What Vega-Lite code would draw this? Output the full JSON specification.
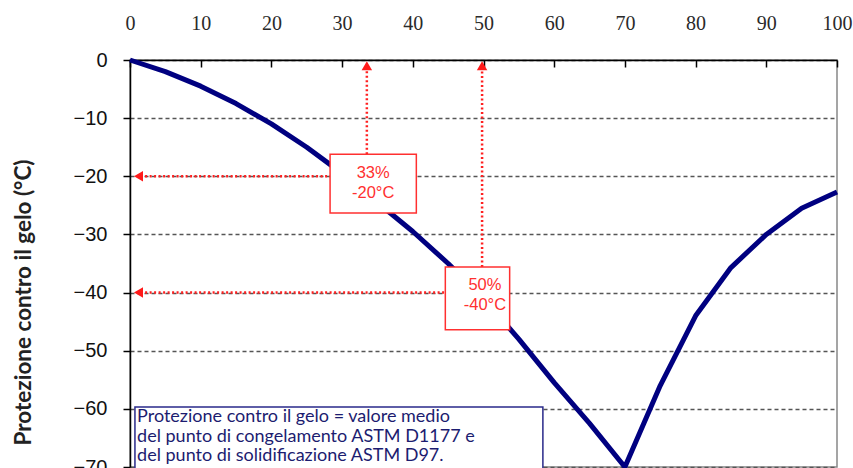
{
  "$schema": "https://vega.github.io/schema/vega-lite/v6.json",
  "width": 707,
  "height": 407,
  "autosize": {"type": "none"},
  "padding": {"left": 130, "top": 60, "right": 16, "bottom": 1},
  "background": "white",
  "config": {
    "view": {"stroke": "#888888", "strokeWidth": 1.5},
    "axis": {"domainColor": "#000000", "tickColor": "#000000", "domainWidth": 1.5, "tickWidth": 1.5}
  },
  "datasets": {
    "curve": [
      {"pct": 0, "temp": 0}, {"pct": 5, "temp": -2}, {"pct": 10, "temp": -4.5}, {"pct": 15, "temp": -7.5},
      {"pct": 20, "temp": -11}, {"pct": 25, "temp": -15}, {"pct": 30, "temp": -19.5}, {"pct": 35, "temp": -24.5},
      {"pct": 40, "temp": -29.5}, {"pct": 45, "temp": -35}, {"pct": 50, "temp": -41}, {"pct": 55, "temp": -48},
      {"pct": 60, "temp": -55.5}, {"pct": 65, "temp": -62.5}, {"pct": 70, "temp": -70}, {"pct": 75, "temp": -56},
      {"pct": 80, "temp": -44}, {"pct": 85, "temp": -35.7}, {"pct": 90, "temp": -30}, {"pct": 95, "temp": -25.5},
      {"pct": 100, "temp": -22.7}
    ],
    "guides": [
      {"x": 33.5, "y": -16.2, "x2": 33.5, "y2": -1.5},
      {"x": 49.8, "y": -35.6, "x2": 49.8, "y2": -1.5},
      {"x": 1.5, "y": -20, "x2": 28.3, "y2": -20},
      {"x": 1.5, "y": -40, "x2": 44.6, "y2": -40}
    ],
    "arrows": [
      {"x": 33.5, "y": -1.0, "dir": "up"},
      {"x": 49.8, "y": -1.0, "dir": "up"},
      {"x": 1.2, "y": -20, "dir": "left"},
      {"x": 1.2, "y": -40, "dir": "left"}
    ],
    "boxes": [
      {"x": 28.3, "x2": 40.5, "y": -16.2, "y2": -26.3},
      {"x": 44.6, "x2": 53.7, "y": -35.6, "y2": -46.4}
    ],
    "boxtext": [
      {"x": 34.4, "y": -19.5, "t": "33%"},
      {"x": 34.4, "y": -22.9, "t": "-20°C"},
      {"x": 50.2, "y": -38.7, "t": "50%"},
      {"x": 50.2, "y": -42.1, "t": "-40°C"}
    ],
    "note": [{"x": 0.7, "x2": 58.4, "y": -59.7, "y2": -70.5}],
    "notetext": [
      {"x": 1.0, "y": -62.3, "t": "Protezione contro il gelo = valore medio"},
      {"x": 1.0, "y": -65.7, "t": "del punto di congelamento ASTM D1177 e"},
      {"x": 1.0, "y": -69.0, "t": "del punto di solidificazione ASTM D97."}
    ]
  },
  "layer": [
    {
      "data": {"name": "curve"},
      "mark": {"type": "line", "color": "#000080", "strokeWidth": 5, "strokeJoin": "round"},
      "encoding": {
        "x": {
          "field": "pct", "type": "quantitative",
          "scale": {"domain": [0, 100], "nice": false},
          "axis": {
            "orient": "top", "title": null, "values": [0, 10, 20, 30, 40, 50, 60, 70, 80, 90, 100],
            "grid": false, "tickSize": -7, "labelPadding": 34,
            "labelFont": "Liberation Serif", "labelFontSize": 20, "labelColor": "#2a2a2a",
            "labelFlush": false
          }
        },
        "y": {
          "field": "temp", "type": "quantitative",
          "scale": {"domain": [-70, 0], "nice": false},
          "axis": {
            "orient": "left", "values": [0, -10, -20, -30, -40, -50, -60, -70],
            "title": "Protezione contro il gelo (°C)",
            "titleFont": "Lato", "titleFontWeight": "bold", "titleFontSize": 22.5, "titleColor": "#222222",
            "titleAngle": -90, "titleX": -107, "titleY": 242, "titleAlign": "center", "titleBaseline": "middle",
            "tickSize": 7, "labelPadding": 16,
            "labelFont": "Liberation Sans", "labelFontSize": 20, "labelColor": "#111111",
            "labelFlush": false,
            "grid": true, "gridDash": [4, 3], "gridColor": "#555555", "gridWidth": 1.5
          }
        }
      }
    },
    {
      "data": {"name": "guides"},
      "mark": {"type": "rule", "color": "#ff2020", "strokeWidth": 2.5, "strokeDash": [2, 2.5]},
      "encoding": {
        "x": {"field": "x", "type": "quantitative"},
        "x2": {"field": "x2"},
        "y": {"field": "y", "type": "quantitative"},
        "y2": {"field": "y2"}
      }
    },
    {
      "data": {"name": "arrows"},
      "mark": {"type": "point", "filled": true, "color": "#ff1a1a", "size": 110, "opacity": 1},
      "encoding": {
        "x": {"field": "x", "type": "quantitative"},
        "y": {"field": "y", "type": "quantitative"},
        "shape": {
          "field": "dir", "type": "nominal",
          "scale": {"domain": ["up", "left"], "range": ["triangle-up", "triangle-left"]},
          "legend": null
        }
      }
    },
    {
      "data": {"name": "boxes"},
      "mark": {"type": "rect", "fill": "white", "stroke": "#ff3030", "strokeWidth": 1.5},
      "encoding": {
        "x": {"field": "x", "type": "quantitative"},
        "x2": {"field": "x2"},
        "y": {"field": "y", "type": "quantitative"},
        "y2": {"field": "y2"}
      }
    },
    {
      "data": {"name": "boxtext"},
      "mark": {"type": "text", "color": "#ff3030", "font": "Liberation Sans", "fontSize": 16.5, "align": "center", "baseline": "middle"},
      "encoding": {
        "x": {"field": "x", "type": "quantitative"},
        "y": {"field": "y", "type": "quantitative"},
        "text": {"field": "t"}
      }
    },
    {
      "data": {"name": "note"},
      "mark": {"type": "rect", "fill": "white", "stroke": "#2a2a8a", "strokeWidth": 1.5},
      "encoding": {
        "x": {"field": "x", "type": "quantitative"},
        "x2": {"field": "x2"},
        "y": {"field": "y", "type": "quantitative"},
        "y2": {"field": "y2"}
      }
    },
    {
      "data": {"name": "notetext"},
      "mark": {"type": "text", "color": "#1c1c70", "font": "Lato", "fontSize": 18, "align": "left", "baseline": "alphabetic"},
      "encoding": {
        "x": {"field": "x", "type": "quantitative"},
        "y": {"field": "y", "type": "quantitative"},
        "text": {"field": "t"}
      }
    }
  ]
}
